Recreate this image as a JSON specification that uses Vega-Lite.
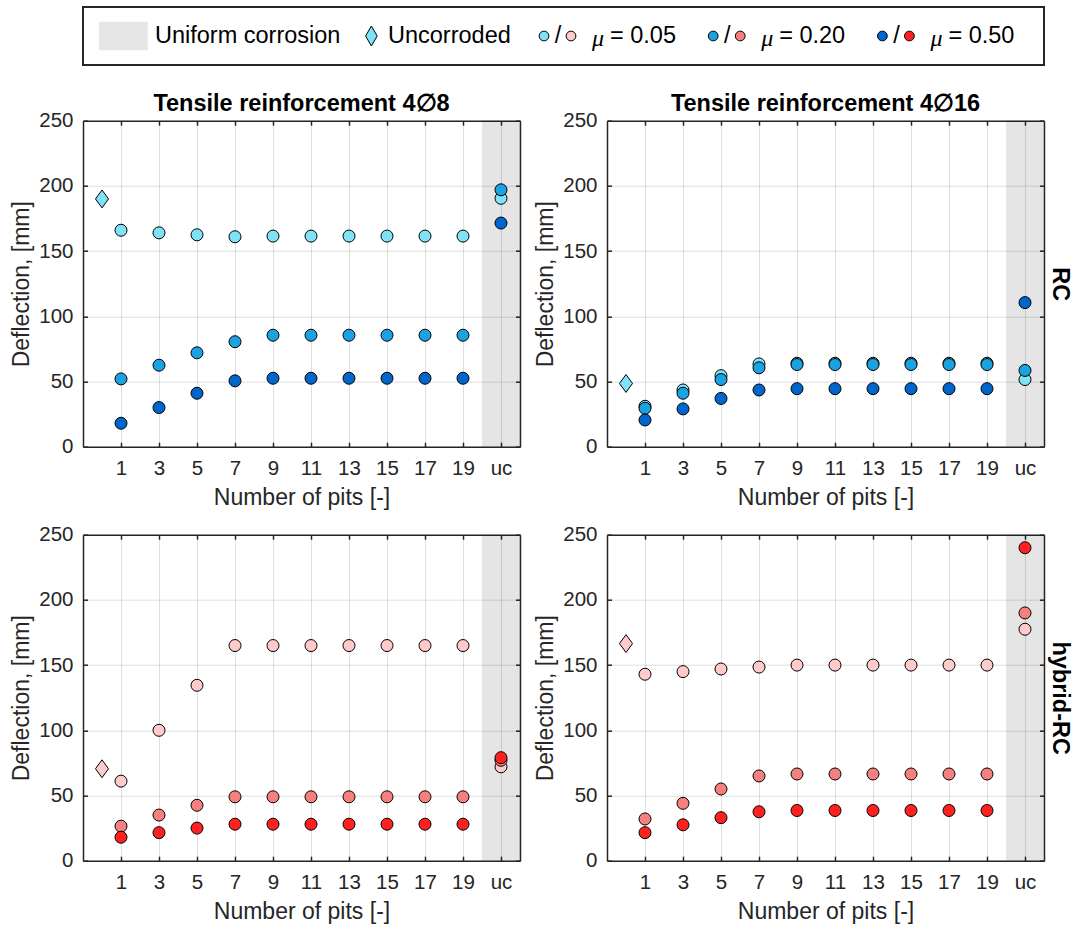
{
  "$schema": "https://vega.github.io/schema/vega-lite/v6.json",
  "background": "#ffffff",
  "padding": {"left": 10, "top": 6, "right": 4, "bottom": 2},
  "spacing": 25.7,
  "datasets": {
    "band": [{"from": 20, "to": 22}],
    "leg": [
      {"item": "band", "label": "Uniform corrosion"},
      {"item": "unc", "label": "Uncorroded", "a": "RC 0.05"},
      {"item": "m05", "label": "= 0.05", "a": "RC 0.05", "b": "hybrid-RC 0.05"},
      {"item": "m20", "label": "= 0.20", "a": "RC 0.20", "b": "hybrid-RC 0.20"},
      {"item": "m50", "label": "= 0.50", "a": "RC 0.50", "b": "hybrid-RC 0.50"}
    ],
    "unc": [
      {"bar": "4∅8", "beam": "RC", "series": "RC 0.05", "pits": 0, "value": 190},
      {"bar": "4∅16", "beam": "RC", "series": "RC 0.05", "pits": 0, "value": 48.5},
      {"bar": "4∅8", "beam": "hybrid-RC", "series": "hybrid-RC 0.05", "pits": 0, "value": 70.5},
      {"bar": "4∅16", "beam": "hybrid-RC", "series": "hybrid-RC 0.05", "pits": 0, "value": 166.5}
    ],
    "pts": [
      {"bar": "4∅8", "beam": "RC", "series": "RC 0.05", "pits": 1, "value": 166},
      {"bar": "4∅8", "beam": "RC", "series": "RC 0.05", "pits": 3, "value": 164},
      {"bar": "4∅8", "beam": "RC", "series": "RC 0.05", "pits": 5, "value": 162.5},
      {"bar": "4∅8", "beam": "RC", "series": "RC 0.05", "pits": 7, "value": 161},
      {"bar": "4∅8", "beam": "RC", "series": "RC 0.05", "pits": 9, "value": 161.5},
      {"bar": "4∅8", "beam": "RC", "series": "RC 0.05", "pits": 11, "value": 161.5},
      {"bar": "4∅8", "beam": "RC", "series": "RC 0.05", "pits": 13, "value": 161.5},
      {"bar": "4∅8", "beam": "RC", "series": "RC 0.05", "pits": 15, "value": 161.5},
      {"bar": "4∅8", "beam": "RC", "series": "RC 0.05", "pits": 17, "value": 161.5},
      {"bar": "4∅8", "beam": "RC", "series": "RC 0.05", "pits": 19, "value": 161.5},
      {"bar": "4∅8", "beam": "RC", "series": "RC 0.05", "pits": 21, "value": 190.5},
      {"bar": "4∅8", "beam": "RC", "series": "RC 0.20", "pits": 1, "value": 52},
      {"bar": "4∅8", "beam": "RC", "series": "RC 0.20", "pits": 3, "value": 62.5},
      {"bar": "4∅8", "beam": "RC", "series": "RC 0.20", "pits": 5, "value": 72},
      {"bar": "4∅8", "beam": "RC", "series": "RC 0.20", "pits": 7, "value": 80.5},
      {"bar": "4∅8", "beam": "RC", "series": "RC 0.20", "pits": 9, "value": 85.5},
      {"bar": "4∅8", "beam": "RC", "series": "RC 0.20", "pits": 11, "value": 85.5},
      {"bar": "4∅8", "beam": "RC", "series": "RC 0.20", "pits": 13, "value": 85.5},
      {"bar": "4∅8", "beam": "RC", "series": "RC 0.20", "pits": 15, "value": 85.5},
      {"bar": "4∅8", "beam": "RC", "series": "RC 0.20", "pits": 17, "value": 85.5},
      {"bar": "4∅8", "beam": "RC", "series": "RC 0.20", "pits": 19, "value": 85.5},
      {"bar": "4∅8", "beam": "RC", "series": "RC 0.20", "pits": 21, "value": 197},
      {"bar": "4∅8", "beam": "RC", "series": "RC 0.50", "pits": 1, "value": 18},
      {"bar": "4∅8", "beam": "RC", "series": "RC 0.50", "pits": 3, "value": 30},
      {"bar": "4∅8", "beam": "RC", "series": "RC 0.50", "pits": 5, "value": 41},
      {"bar": "4∅8", "beam": "RC", "series": "RC 0.50", "pits": 7, "value": 50.5},
      {"bar": "4∅8", "beam": "RC", "series": "RC 0.50", "pits": 9, "value": 52.5},
      {"bar": "4∅8", "beam": "RC", "series": "RC 0.50", "pits": 11, "value": 52.5},
      {"bar": "4∅8", "beam": "RC", "series": "RC 0.50", "pits": 13, "value": 52.5},
      {"bar": "4∅8", "beam": "RC", "series": "RC 0.50", "pits": 15, "value": 52.5},
      {"bar": "4∅8", "beam": "RC", "series": "RC 0.50", "pits": 17, "value": 52.5},
      {"bar": "4∅8", "beam": "RC", "series": "RC 0.50", "pits": 19, "value": 52.5},
      {"bar": "4∅8", "beam": "RC", "series": "RC 0.50", "pits": 21, "value": 171.5},

      {"bar": "4∅16", "beam": "RC", "series": "RC 0.05", "pits": 1, "value": 31},
      {"bar": "4∅16", "beam": "RC", "series": "RC 0.05", "pits": 3, "value": 43.5},
      {"bar": "4∅16", "beam": "RC", "series": "RC 0.05", "pits": 5, "value": 54.5},
      {"bar": "4∅16", "beam": "RC", "series": "RC 0.05", "pits": 7, "value": 63.5},
      {"bar": "4∅16", "beam": "RC", "series": "RC 0.05", "pits": 9, "value": 64},
      {"bar": "4∅16", "beam": "RC", "series": "RC 0.05", "pits": 11, "value": 64},
      {"bar": "4∅16", "beam": "RC", "series": "RC 0.05", "pits": 13, "value": 64},
      {"bar": "4∅16", "beam": "RC", "series": "RC 0.05", "pits": 15, "value": 64},
      {"bar": "4∅16", "beam": "RC", "series": "RC 0.05", "pits": 17, "value": 64},
      {"bar": "4∅16", "beam": "RC", "series": "RC 0.05", "pits": 19, "value": 64},
      {"bar": "4∅16", "beam": "RC", "series": "RC 0.05", "pits": 21, "value": 51.5},
      {"bar": "4∅16", "beam": "RC", "series": "RC 0.20", "pits": 1, "value": 29.5},
      {"bar": "4∅16", "beam": "RC", "series": "RC 0.20", "pits": 3, "value": 41},
      {"bar": "4∅16", "beam": "RC", "series": "RC 0.20", "pits": 5, "value": 51.5},
      {"bar": "4∅16", "beam": "RC", "series": "RC 0.20", "pits": 7, "value": 60.5},
      {"bar": "4∅16", "beam": "RC", "series": "RC 0.20", "pits": 9, "value": 63},
      {"bar": "4∅16", "beam": "RC", "series": "RC 0.20", "pits": 11, "value": 63},
      {"bar": "4∅16", "beam": "RC", "series": "RC 0.20", "pits": 13, "value": 63},
      {"bar": "4∅16", "beam": "RC", "series": "RC 0.20", "pits": 15, "value": 63},
      {"bar": "4∅16", "beam": "RC", "series": "RC 0.20", "pits": 17, "value": 63},
      {"bar": "4∅16", "beam": "RC", "series": "RC 0.20", "pits": 19, "value": 63},
      {"bar": "4∅16", "beam": "RC", "series": "RC 0.20", "pits": 21, "value": 58.5},
      {"bar": "4∅16", "beam": "RC", "series": "RC 0.50", "pits": 1, "value": 20.5},
      {"bar": "4∅16", "beam": "RC", "series": "RC 0.50", "pits": 3, "value": 29},
      {"bar": "4∅16", "beam": "RC", "series": "RC 0.50", "pits": 5, "value": 37},
      {"bar": "4∅16", "beam": "RC", "series": "RC 0.50", "pits": 7, "value": 43.5},
      {"bar": "4∅16", "beam": "RC", "series": "RC 0.50", "pits": 9, "value": 44.5},
      {"bar": "4∅16", "beam": "RC", "series": "RC 0.50", "pits": 11, "value": 44.5},
      {"bar": "4∅16", "beam": "RC", "series": "RC 0.50", "pits": 13, "value": 44.5},
      {"bar": "4∅16", "beam": "RC", "series": "RC 0.50", "pits": 15, "value": 44.5},
      {"bar": "4∅16", "beam": "RC", "series": "RC 0.50", "pits": 17, "value": 44.5},
      {"bar": "4∅16", "beam": "RC", "series": "RC 0.50", "pits": 19, "value": 44.5},
      {"bar": "4∅16", "beam": "RC", "series": "RC 0.50", "pits": 21, "value": 110.5},

      {"bar": "4∅8", "beam": "hybrid-RC", "series": "hybrid-RC 0.05", "pits": 1, "value": 61},
      {"bar": "4∅8", "beam": "hybrid-RC", "series": "hybrid-RC 0.05", "pits": 3, "value": 100},
      {"bar": "4∅8", "beam": "hybrid-RC", "series": "hybrid-RC 0.05", "pits": 5, "value": 134.5},
      {"bar": "4∅8", "beam": "hybrid-RC", "series": "hybrid-RC 0.05", "pits": 7, "value": 165},
      {"bar": "4∅8", "beam": "hybrid-RC", "series": "hybrid-RC 0.05", "pits": 9, "value": 165},
      {"bar": "4∅8", "beam": "hybrid-RC", "series": "hybrid-RC 0.05", "pits": 11, "value": 165},
      {"bar": "4∅8", "beam": "hybrid-RC", "series": "hybrid-RC 0.05", "pits": 13, "value": 165},
      {"bar": "4∅8", "beam": "hybrid-RC", "series": "hybrid-RC 0.05", "pits": 15, "value": 165},
      {"bar": "4∅8", "beam": "hybrid-RC", "series": "hybrid-RC 0.05", "pits": 17, "value": 165},
      {"bar": "4∅8", "beam": "hybrid-RC", "series": "hybrid-RC 0.05", "pits": 19, "value": 165},
      {"bar": "4∅8", "beam": "hybrid-RC", "series": "hybrid-RC 0.05", "pits": 21, "value": 72},
      {"bar": "4∅8", "beam": "hybrid-RC", "series": "hybrid-RC 0.20", "pits": 1, "value": 26.5},
      {"bar": "4∅8", "beam": "hybrid-RC", "series": "hybrid-RC 0.20", "pits": 3, "value": 35},
      {"bar": "4∅8", "beam": "hybrid-RC", "series": "hybrid-RC 0.20", "pits": 5, "value": 42.5},
      {"bar": "4∅8", "beam": "hybrid-RC", "series": "hybrid-RC 0.20", "pits": 7, "value": 49},
      {"bar": "4∅8", "beam": "hybrid-RC", "series": "hybrid-RC 0.20", "pits": 9, "value": 49},
      {"bar": "4∅8", "beam": "hybrid-RC", "series": "hybrid-RC 0.20", "pits": 11, "value": 49},
      {"bar": "4∅8", "beam": "hybrid-RC", "series": "hybrid-RC 0.20", "pits": 13, "value": 49},
      {"bar": "4∅8", "beam": "hybrid-RC", "series": "hybrid-RC 0.20", "pits": 15, "value": 49},
      {"bar": "4∅8", "beam": "hybrid-RC", "series": "hybrid-RC 0.20", "pits": 17, "value": 49},
      {"bar": "4∅8", "beam": "hybrid-RC", "series": "hybrid-RC 0.20", "pits": 19, "value": 49},
      {"bar": "4∅8", "beam": "hybrid-RC", "series": "hybrid-RC 0.20", "pits": 21, "value": 77},
      {"bar": "4∅8", "beam": "hybrid-RC", "series": "hybrid-RC 0.50", "pits": 1, "value": 18},
      {"bar": "4∅8", "beam": "hybrid-RC", "series": "hybrid-RC 0.50", "pits": 3, "value": 21.5},
      {"bar": "4∅8", "beam": "hybrid-RC", "series": "hybrid-RC 0.50", "pits": 5, "value": 25},
      {"bar": "4∅8", "beam": "hybrid-RC", "series": "hybrid-RC 0.50", "pits": 7, "value": 28},
      {"bar": "4∅8", "beam": "hybrid-RC", "series": "hybrid-RC 0.50", "pits": 9, "value": 28},
      {"bar": "4∅8", "beam": "hybrid-RC", "series": "hybrid-RC 0.50", "pits": 11, "value": 28},
      {"bar": "4∅8", "beam": "hybrid-RC", "series": "hybrid-RC 0.50", "pits": 13, "value": 28},
      {"bar": "4∅8", "beam": "hybrid-RC", "series": "hybrid-RC 0.50", "pits": 15, "value": 28},
      {"bar": "4∅8", "beam": "hybrid-RC", "series": "hybrid-RC 0.50", "pits": 17, "value": 28},
      {"bar": "4∅8", "beam": "hybrid-RC", "series": "hybrid-RC 0.50", "pits": 19, "value": 28},
      {"bar": "4∅8", "beam": "hybrid-RC", "series": "hybrid-RC 0.50", "pits": 21, "value": 79},

      {"bar": "4∅16", "beam": "hybrid-RC", "series": "hybrid-RC 0.05", "pits": 1, "value": 143},
      {"bar": "4∅16", "beam": "hybrid-RC", "series": "hybrid-RC 0.05", "pits": 3, "value": 145},
      {"bar": "4∅16", "beam": "hybrid-RC", "series": "hybrid-RC 0.05", "pits": 5, "value": 147},
      {"bar": "4∅16", "beam": "hybrid-RC", "series": "hybrid-RC 0.05", "pits": 7, "value": 148.5},
      {"bar": "4∅16", "beam": "hybrid-RC", "series": "hybrid-RC 0.05", "pits": 9, "value": 150},
      {"bar": "4∅16", "beam": "hybrid-RC", "series": "hybrid-RC 0.05", "pits": 11, "value": 150},
      {"bar": "4∅16", "beam": "hybrid-RC", "series": "hybrid-RC 0.05", "pits": 13, "value": 150},
      {"bar": "4∅16", "beam": "hybrid-RC", "series": "hybrid-RC 0.05", "pits": 15, "value": 150},
      {"bar": "4∅16", "beam": "hybrid-RC", "series": "hybrid-RC 0.05", "pits": 17, "value": 150},
      {"bar": "4∅16", "beam": "hybrid-RC", "series": "hybrid-RC 0.05", "pits": 19, "value": 150},
      {"bar": "4∅16", "beam": "hybrid-RC", "series": "hybrid-RC 0.05", "pits": 21, "value": 177.5},
      {"bar": "4∅16", "beam": "hybrid-RC", "series": "hybrid-RC 0.20", "pits": 1, "value": 32},
      {"bar": "4∅16", "beam": "hybrid-RC", "series": "hybrid-RC 0.20", "pits": 3, "value": 44},
      {"bar": "4∅16", "beam": "hybrid-RC", "series": "hybrid-RC 0.20", "pits": 5, "value": 55},
      {"bar": "4∅16", "beam": "hybrid-RC", "series": "hybrid-RC 0.20", "pits": 7, "value": 65},
      {"bar": "4∅16", "beam": "hybrid-RC", "series": "hybrid-RC 0.20", "pits": 9, "value": 66.5},
      {"bar": "4∅16", "beam": "hybrid-RC", "series": "hybrid-RC 0.20", "pits": 11, "value": 66.5},
      {"bar": "4∅16", "beam": "hybrid-RC", "series": "hybrid-RC 0.20", "pits": 13, "value": 66.5},
      {"bar": "4∅16", "beam": "hybrid-RC", "series": "hybrid-RC 0.20", "pits": 15, "value": 66.5},
      {"bar": "4∅16", "beam": "hybrid-RC", "series": "hybrid-RC 0.20", "pits": 17, "value": 66.5},
      {"bar": "4∅16", "beam": "hybrid-RC", "series": "hybrid-RC 0.20", "pits": 19, "value": 66.5},
      {"bar": "4∅16", "beam": "hybrid-RC", "series": "hybrid-RC 0.20", "pits": 21, "value": 190},
      {"bar": "4∅16", "beam": "hybrid-RC", "series": "hybrid-RC 0.50", "pits": 1, "value": 21.5},
      {"bar": "4∅16", "beam": "hybrid-RC", "series": "hybrid-RC 0.50", "pits": 3, "value": 27.5},
      {"bar": "4∅16", "beam": "hybrid-RC", "series": "hybrid-RC 0.50", "pits": 5, "value": 33},
      {"bar": "4∅16", "beam": "hybrid-RC", "series": "hybrid-RC 0.50", "pits": 7, "value": 37.5},
      {"bar": "4∅16", "beam": "hybrid-RC", "series": "hybrid-RC 0.50", "pits": 9, "value": 38.5},
      {"bar": "4∅16", "beam": "hybrid-RC", "series": "hybrid-RC 0.50", "pits": 11, "value": 38.5},
      {"bar": "4∅16", "beam": "hybrid-RC", "series": "hybrid-RC 0.50", "pits": 13, "value": 38.5},
      {"bar": "4∅16", "beam": "hybrid-RC", "series": "hybrid-RC 0.50", "pits": 15, "value": 38.5},
      {"bar": "4∅16", "beam": "hybrid-RC", "series": "hybrid-RC 0.50", "pits": 17, "value": 38.5},
      {"bar": "4∅16", "beam": "hybrid-RC", "series": "hybrid-RC 0.50", "pits": 19, "value": 38.5},
      {"bar": "4∅16", "beam": "hybrid-RC", "series": "hybrid-RC 0.50", "pits": 21, "value": 240}
    ]
  },
  "vconcat": [
    {
      "width": 961,
      "height": 58,
      "view": {"stroke": "#262626", "strokeWidth": 2},
      "data": {"name": "leg"},
      "encoding": {
        "x": {"field": "item", "type": "ordinal", "scale": {"type": "point", "domain": ["band", "unc", "m05", "m20", "m50"], "range": [122.6, 799.4], "padding": 0}, "axis": null}
      },
      "layer": [
        {"transform": [{"filter": "datum.item == 'band'"}], "mark": {"type": "point", "shape": "M-1,-0.583L1,-0.583L1,0.583L-1,0.583Z", "size": 2372, "filled": true, "fill": "#e6e6e6", "strokeWidth": 0, "opacity": 1, "xOffset": -82.3}},
        {"transform": [{"filter": "datum.item == 'band'"}], "mark": {"type": "text", "align": "left", "baseline": "middle", "dx": -50.6, "fontSize": 23.5, "font": "Liberation Sans", "fill": "#000000"}, "encoding": {"text": {"field": "label"}}},
        {"transform": [{"filter": "datum.item == 'unc'"}], "mark": {"type": "point", "shape": "M0,-1L0.58,0L0,1L-0.58,0Z", "size": 400, "filled": true, "stroke": "#000000", "strokeWidth": 1, "opacity": 1, "xOffset": -3.4},
          "encoding": {"color": {"field": "a", "type": "nominal", "scale": {"domain": ["RC 0.05", "RC 0.20", "RC 0.50", "hybrid-RC 0.05", "hybrid-RC 0.20", "hybrid-RC 0.50"], "range": ["#80e2f6", "#1aa2e2", "#0066cc", "#ffcaca", "#f68080", "#ff2020"]}, "legend": null}}},
        {"transform": [{"filter": "datum.item == 'unc'"}], "mark": {"type": "text", "align": "left", "baseline": "middle", "dx": 13.2, "fontSize": 23.5, "font": "Liberation Sans", "fill": "#000000"}, "encoding": {"text": {"field": "label"}}},
        {"transform": [{"filter": "datum.item != 'band' && datum.item != 'unc'"}], "mark": {"type": "point", "shape": "circle", "size": 95, "filled": true, "stroke": "#000000", "strokeWidth": 1, "opacity": 1},
          "encoding": {"color": {"field": "a", "type": "nominal", "scale": {"domain": ["RC 0.05", "RC 0.20", "RC 0.50", "hybrid-RC 0.05", "hybrid-RC 0.20", "hybrid-RC 0.50"], "range": ["#80e2f6", "#1aa2e2", "#0066cc", "#ffcaca", "#f68080", "#ff2020"]}, "legend": null}}},
        {"transform": [{"filter": "datum.item != 'band' && datum.item != 'unc'"}], "mark": {"type": "text", "align": "center", "baseline": "middle", "dx": 14, "fontSize": 23.5, "font": "Liberation Sans", "fill": "#000000", "text": "/"}},
        {"transform": [{"filter": "datum.item != 'band' && datum.item != 'unc'"}], "mark": {"type": "point", "shape": "circle", "size": 95, "filled": true, "stroke": "#000000", "strokeWidth": 1, "opacity": 1, "xOffset": 27},
          "encoding": {"color": {"field": "b", "type": "nominal", "scale": {"domain": ["RC 0.05", "RC 0.20", "RC 0.50", "hybrid-RC 0.05", "hybrid-RC 0.20", "hybrid-RC 0.50"], "range": ["#80e2f6", "#1aa2e2", "#0066cc", "#ffcaca", "#f68080", "#ff2020"]}, "legend": null}}},
        {"transform": [{"filter": "datum.item != 'band' && datum.item != 'unc'"}], "mark": {"type": "text", "align": "left", "baseline": "middle", "dx": 48, "dy": 3, "fontSize": 24, "font": "Liberation Serif", "fontStyle": "italic", "fill": "#000000", "text": "μ"}},
        {"transform": [{"filter": "datum.item != 'band' && datum.item != 'unc'"}], "mark": {"type": "text", "align": "left", "baseline": "middle", "dx": 66, "fontSize": 23.5, "font": "Liberation Sans", "fill": "#000000"}, "encoding": {"text": {"field": "label"}}}
      ]
    },
    {
      "spacing": 15,
      "vconcat": [
        {
          "spacing": 13,
          "hconcat": [
            {
              "width": 437, "height": 326,
              "title": {"text": "Tensile reinforcement 4∅8"},
              "layer": [
                {"data": {"name": "band"}, "mark": {"type": "rect", "fill": "#000000", "fillOpacity": 0.1},
                  "encoding": {
                    "x": {"field": "from", "type": "quantitative", "scale": {"domain": [-1, 22], "nice": false, "zero": false}, "axis": {"orient": "top", "values": [1, 3, 5, 7, 9, 11, 13, 15, 17, 19, 21], "labels": false, "title": null, "grid": false}},
                    "x2": {"field": "to"},
                    "y": {"datum": 0, "type": "quantitative", "scale": {"domain": [0, 250], "nice": false, "zero": false}, "axis": {"orient": "right", "values": [0, 50, 100, 150, 200, 250], "labels": false, "title": null, "grid": false}},
                    "y2": {"datum": 250}}},
                {"data": {"name": "pts"}, "transform": [{"filter": "datum.bar == '4∅8' && datum.beam == 'RC'"}],
                  "mark": {"type": "point", "shape": "circle", "filled": true, "size": 144, "stroke": "#000000", "strokeWidth": 1, "opacity": 1},
                  "encoding": {
                    "x": {"field": "pits", "type": "quantitative", "axis": {"orient": "bottom", "values": [1, 3, 5, 7, 9, 11, 13, 15, 17, 19, 21], "labelExpr": "datum.value == 21 ? 'uc' : datum.label", "title": "Number of pits [-]", "grid": true, "labelPadding": 16.5, "titlePadding": 7}},
                    "y": {"field": "value", "type": "quantitative", "axis": {"orient": "left", "values": [0, 50, 100, 150, 200, 250], "title": "Deflection, [mm]", "grid": true, "labelPadding": 14.5, "titlePadding": 5}},
                    "color": {"field": "series", "type": "nominal", "scale": {"domain": ["RC 0.05", "RC 0.20", "RC 0.50", "hybrid-RC 0.05", "hybrid-RC 0.20", "hybrid-RC 0.50"], "range": ["#80e2f6", "#1aa2e2", "#0066cc", "#ffcaca", "#f68080", "#ff2020"]}, "legend": null}}},
                {"data": {"name": "unc"}, "transform": [{"filter": "datum.bar == '4∅8' && datum.beam == 'RC'"}],
                  "mark": {"type": "point", "shape": "M0,-1L0.73,0L0,1L-0.73,0Z", "filled": true, "size": 320, "stroke": "#000000", "strokeWidth": 1, "opacity": 1},
                  "encoding": {
                    "x": {"field": "pits", "type": "quantitative", "axis": null},
                    "y": {"field": "value", "type": "quantitative", "axis": null},
                    "color": {"field": "series", "type": "nominal", "scale": {"domain": ["RC 0.05", "RC 0.20", "RC 0.50", "hybrid-RC 0.05", "hybrid-RC 0.20", "hybrid-RC 0.50"], "range": ["#80e2f6", "#1aa2e2", "#0066cc", "#ffcaca", "#f68080", "#ff2020"]}, "legend": null}}}
              ],
              "resolve": {"axis": {"x": "independent", "y": "independent"}}
            },
            {
              "width": 437, "height": 326,
              "title": {"text": "Tensile reinforcement 4∅16"},
              "layer": [
                {"data": {"name": "band"}, "mark": {"type": "rect", "fill": "#000000", "fillOpacity": 0.1},
                  "encoding": {
                    "x": {"field": "from", "type": "quantitative", "scale": {"domain": [-1, 22], "nice": false, "zero": false}, "axis": {"orient": "top", "values": [1, 3, 5, 7, 9, 11, 13, 15, 17, 19, 21], "labels": false, "title": null, "grid": false}},
                    "x2": {"field": "to"},
                    "y": {"datum": 0, "type": "quantitative", "scale": {"domain": [0, 250], "nice": false, "zero": false}, "axis": {"orient": "right", "values": [0, 50, 100, 150, 200, 250], "labels": false, "title": "RC", "titleFontWeight": "bold", "titleColor": "#000000", "titleFontSize": 23.5, "titleAngle": 90, "titlePadding": 3, "grid": false}},
                    "y2": {"datum": 250}}},
                {"data": {"name": "pts"}, "transform": [{"filter": "datum.bar == '4∅16' && datum.beam == 'RC'"}],
                  "mark": {"type": "point", "shape": "circle", "filled": true, "size": 144, "stroke": "#000000", "strokeWidth": 1, "opacity": 1},
                  "encoding": {
                    "x": {"field": "pits", "type": "quantitative", "axis": {"orient": "bottom", "values": [1, 3, 5, 7, 9, 11, 13, 15, 17, 19, 21], "labelExpr": "datum.value == 21 ? 'uc' : datum.label", "title": "Number of pits [-]", "grid": true, "labelPadding": 16.5, "titlePadding": 7}},
                    "y": {"field": "value", "type": "quantitative", "axis": {"orient": "left", "values": [0, 50, 100, 150, 200, 250], "title": "Deflection, [mm]", "grid": true, "labelPadding": 14.5, "titlePadding": 5}},
                    "color": {"field": "series", "type": "nominal", "scale": {"domain": ["RC 0.05", "RC 0.20", "RC 0.50", "hybrid-RC 0.05", "hybrid-RC 0.20", "hybrid-RC 0.50"], "range": ["#80e2f6", "#1aa2e2", "#0066cc", "#ffcaca", "#f68080", "#ff2020"]}, "legend": null}}},
                {"data": {"name": "unc"}, "transform": [{"filter": "datum.bar == '4∅16' && datum.beam == 'RC'"}],
                  "mark": {"type": "point", "shape": "M0,-1L0.73,0L0,1L-0.73,0Z", "filled": true, "size": 320, "stroke": "#000000", "strokeWidth": 1, "opacity": 1},
                  "encoding": {
                    "x": {"field": "pits", "type": "quantitative", "axis": null},
                    "y": {"field": "value", "type": "quantitative", "axis": null},
                    "color": {"field": "series", "type": "nominal", "scale": {"domain": ["RC 0.05", "RC 0.20", "RC 0.50", "hybrid-RC 0.05", "hybrid-RC 0.20", "hybrid-RC 0.50"], "range": ["#80e2f6", "#1aa2e2", "#0066cc", "#ffcaca", "#f68080", "#ff2020"]}, "legend": null}}}
              ],
              "resolve": {"axis": {"x": "independent", "y": "independent"}}
            }
          ]
        },
        {
          "spacing": 13,
          "hconcat": [
            {
              "width": 437, "height": 326,
              "layer": [
                {"data": {"name": "band"}, "mark": {"type": "rect", "fill": "#000000", "fillOpacity": 0.1},
                  "encoding": {
                    "x": {"field": "from", "type": "quantitative", "scale": {"domain": [-1, 22], "nice": false, "zero": false}, "axis": {"orient": "top", "values": [1, 3, 5, 7, 9, 11, 13, 15, 17, 19, 21], "labels": false, "title": null, "grid": false}},
                    "x2": {"field": "to"},
                    "y": {"datum": 0, "type": "quantitative", "scale": {"domain": [0, 250], "nice": false, "zero": false}, "axis": {"orient": "right", "values": [0, 50, 100, 150, 200, 250], "labels": false, "title": null, "grid": false}},
                    "y2": {"datum": 250}}},
                {"data": {"name": "pts"}, "transform": [{"filter": "datum.bar == '4∅8' && datum.beam == 'hybrid-RC'"}],
                  "mark": {"type": "point", "shape": "circle", "filled": true, "size": 144, "stroke": "#000000", "strokeWidth": 1, "opacity": 1},
                  "encoding": {
                    "x": {"field": "pits", "type": "quantitative", "axis": {"orient": "bottom", "values": [1, 3, 5, 7, 9, 11, 13, 15, 17, 19, 21], "labelExpr": "datum.value == 21 ? 'uc' : datum.label", "title": "Number of pits [-]", "grid": true, "labelPadding": 16.5, "titlePadding": 7}},
                    "y": {"field": "value", "type": "quantitative", "axis": {"orient": "left", "values": [0, 50, 100, 150, 200, 250], "title": "Deflection, [mm]", "grid": true, "labelPadding": 14.5, "titlePadding": 5}},
                    "color": {"field": "series", "type": "nominal", "scale": {"domain": ["RC 0.05", "RC 0.20", "RC 0.50", "hybrid-RC 0.05", "hybrid-RC 0.20", "hybrid-RC 0.50"], "range": ["#80e2f6", "#1aa2e2", "#0066cc", "#ffcaca", "#f68080", "#ff2020"]}, "legend": null}}},
                {"data": {"name": "unc"}, "transform": [{"filter": "datum.bar == '4∅8' && datum.beam == 'hybrid-RC'"}],
                  "mark": {"type": "point", "shape": "M0,-1L0.73,0L0,1L-0.73,0Z", "filled": true, "size": 320, "stroke": "#000000", "strokeWidth": 1, "opacity": 1},
                  "encoding": {
                    "x": {"field": "pits", "type": "quantitative", "axis": null},
                    "y": {"field": "value", "type": "quantitative", "axis": null},
                    "color": {"field": "series", "type": "nominal", "scale": {"domain": ["RC 0.05", "RC 0.20", "RC 0.50", "hybrid-RC 0.05", "hybrid-RC 0.20", "hybrid-RC 0.50"], "range": ["#80e2f6", "#1aa2e2", "#0066cc", "#ffcaca", "#f68080", "#ff2020"]}, "legend": null}}}
              ],
              "resolve": {"axis": {"x": "independent", "y": "independent"}}
            },
            {
              "width": 437, "height": 326,
              "layer": [
                {"data": {"name": "band"}, "mark": {"type": "rect", "fill": "#000000", "fillOpacity": 0.1},
                  "encoding": {
                    "x": {"field": "from", "type": "quantitative", "scale": {"domain": [-1, 22], "nice": false, "zero": false}, "axis": {"orient": "top", "values": [1, 3, 5, 7, 9, 11, 13, 15, 17, 19, 21], "labels": false, "title": null, "grid": false}},
                    "x2": {"field": "to"},
                    "y": {"datum": 0, "type": "quantitative", "scale": {"domain": [0, 250], "nice": false, "zero": false}, "axis": {"orient": "right", "values": [0, 50, 100, 150, 200, 250], "labels": false, "title": "hybrid-RC", "titleFontWeight": "bold", "titleColor": "#000000", "titleFontSize": 23.5, "titleAngle": 90, "titlePadding": 3, "grid": false}},
                    "y2": {"datum": 250}}},
                {"data": {"name": "pts"}, "transform": [{"filter": "datum.bar == '4∅16' && datum.beam == 'hybrid-RC'"}],
                  "mark": {"type": "point", "shape": "circle", "filled": true, "size": 144, "stroke": "#000000", "strokeWidth": 1, "opacity": 1},
                  "encoding": {
                    "x": {"field": "pits", "type": "quantitative", "axis": {"orient": "bottom", "values": [1, 3, 5, 7, 9, 11, 13, 15, 17, 19, 21], "labelExpr": "datum.value == 21 ? 'uc' : datum.label", "title": "Number of pits [-]", "grid": true, "labelPadding": 16.5, "titlePadding": 7}},
                    "y": {"field": "value", "type": "quantitative", "axis": {"orient": "left", "values": [0, 50, 100, 150, 200, 250], "title": "Deflection, [mm]", "grid": true, "labelPadding": 14.5, "titlePadding": 5}},
                    "color": {"field": "series", "type": "nominal", "scale": {"domain": ["RC 0.05", "RC 0.20", "RC 0.50", "hybrid-RC 0.05", "hybrid-RC 0.20", "hybrid-RC 0.50"], "range": ["#80e2f6", "#1aa2e2", "#0066cc", "#ffcaca", "#f68080", "#ff2020"]}, "legend": null}}},
                {"data": {"name": "unc"}, "transform": [{"filter": "datum.bar == '4∅16' && datum.beam == 'hybrid-RC'"}],
                  "mark": {"type": "point", "shape": "M0,-1L0.73,0L0,1L-0.73,0Z", "filled": true, "size": 320, "stroke": "#000000", "strokeWidth": 1, "opacity": 1},
                  "encoding": {
                    "x": {"field": "pits", "type": "quantitative", "axis": null},
                    "y": {"field": "value", "type": "quantitative", "axis": null},
                    "color": {"field": "series", "type": "nominal", "scale": {"domain": ["RC 0.05", "RC 0.20", "RC 0.50", "hybrid-RC 0.05", "hybrid-RC 0.20", "hybrid-RC 0.50"], "range": ["#80e2f6", "#1aa2e2", "#0066cc", "#ffcaca", "#f68080", "#ff2020"]}, "legend": null}}}
              ],
              "resolve": {"axis": {"x": "independent", "y": "independent"}}
            }
          ]
        }
      ]
    }
  ],
  "config": {
    "font": "Liberation Sans",
    "view": {"stroke": null},
    "title": {"font": "Liberation Sans", "fontSize": 23.5, "fontWeight": "bold", "color": "#000000", "anchor": "middle", "frame": "group", "baseline": "alphabetic", "offset": -5},
    "axis": {
      "labelFont": "Liberation Sans", "labelFontSize": 20.5, "labelColor": "#262626",
      "titleFont": "Liberation Sans", "titleFontSize": 23, "titleFontWeight": "normal", "titleColor": "#262626",
      "domainColor": "#262626", "domainWidth": 1.5,
      "tickColor": "#262626", "tickWidth": 1.5, "tickSize": -4.5,
      "gridColor": "#262626", "gridOpacity": 0.15, "gridWidth": 1,
      "labelFlush": false, "labelOverlap": false, "labelAngle": 0
    }
  }
}
